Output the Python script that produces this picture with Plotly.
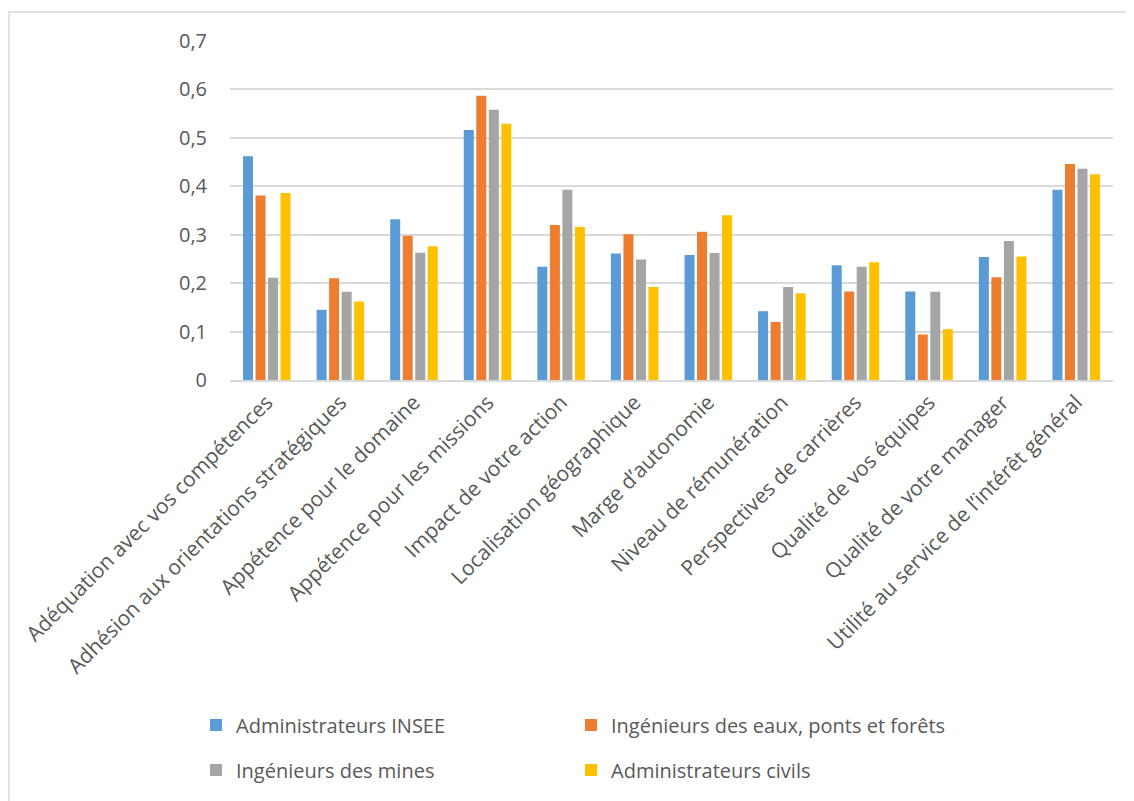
import plotly.graph_objects as go

##########
# Données #
##########

CATEGORIES = [
    "Adéquation avec vos compétences",
    "Adhésion aux orientations stratégiques",
    "Appétence pour le domaine",
    "Appétence pour les missions",
    "Impact de votre action",
    "Localisation géographique",
    "Marge d’autonomie",
    "Niveau de rémunération",
    "Perspectives de carrières",
    "Qualité de vos équipes",
    "Qualité de votre manager",
    "Utilité au service de l’intérêt général",
]

ADMIN_INSEE = [0.462, 0.145, 0.332, 0.516, 0.234, 0.261, 0.258, 0.142, 0.237, 0.183, 0.254, 0.393]
ING_EAUX = [0.381, 0.210, 0.298, 0.587, 0.320, 0.301, 0.306, 0.120, 0.183, 0.094, 0.212, 0.446]
ING_MINES = [0.211, 0.182, 0.263, 0.558, 0.393, 0.249, 0.262, 0.192, 0.234, 0.182, 0.287, 0.436]
ADMIN_CIVILS = [0.386, 0.162, 0.276, 0.529, 0.316, 0.192, 0.340, 0.179, 0.243, 0.105, 0.255, 0.425]

Y_TICKS = [0, 0.1, 0.2, 0.3, 0.4, 0.5, 0.6, 0.7]
Y_TICK_LABELS = ["0", "0,1", "0,2", "0,3", "0,4", "0,5", "0,6", "0,7"]

##########
# Layout #
##########

# the page body has an 8px margin, so the figure is shifted by 8px
PAGE_OFFSET = 8
WIDTH, HEIGHT = 1134 - PAGE_OFFSET, 801 - PAGE_OFFSET
LEFT, RIGHT, TOP, BOTTOM = 230 - PAGE_OFFSET, 21, 41 - PAGE_OFFSET, 421
FONT = "Open Sans"
TEXT_COLOR = "#595959"
GRID_COLOR = "#D9D9D9"

series = [
    ("Administrateurs INSEE", ADMIN_INSEE, "#5B9BD5", "legend"),
    ("Ingénieurs des eaux, ponts et forêts", ING_EAUX, "#ED7D31", "legend"),
    ("Ingénieurs des mines", ING_MINES, "#A5A5A5", "legend2"),
    ("Administrateurs civils", ADMIN_CIVILS, "#FFC000", "legend2"),
]

fig = go.Figure()
for name, values, color, legend in series:
    fig.add_trace(
        go.Bar(
            x=CATEGORIES,
            y=values,
            name=name,
            marker_color=color,
            marker_line_width=0,
            legend=legend,
        )
    )

legend_style = dict(
    orientation="h",
    xref="container",
    yref="container",
    x=(196 - PAGE_OFFSET) / WIDTH,
    xanchor="left",
    yanchor="middle",
    entrywidth=330,
    entrywidthmode="pixels",
    itemwidth=30,
    font=dict(family=FONT, size=20, color=TEXT_COLOR),
    bgcolor="rgba(0,0,0,0)",
)

plot_w = WIDTH - LEFT - RIGHT
plot_h = HEIGHT - TOP - BOTTOM


def px_x(px):
    return (px - PAGE_OFFSET - LEFT) / plot_w


def px_y(py):
    return (HEIGHT - BOTTOM - (py - PAGE_OFFSET)) / plot_h


fig.update_layout(
    width=WIDTH,
    height=HEIGHT,
    margin=dict(l=LEFT, r=RIGHT, t=TOP, b=BOTTOM, autoexpand=False),
    paper_bgcolor="white",
    plot_bgcolor="white",
    barmode="group",
    bargap=0.32,
    bargroupgap=0.2,
    font=dict(family=FONT, color=TEXT_COLOR),
    legend=dict(legend_style, y=1 - (725 - PAGE_OFFSET) / HEIGHT),
    legend2=dict(legend_style, y=1 - (770 - PAGE_OFFSET) / HEIGHT),
    shapes=[
        dict(
            type="rect",
            xref="paper",
            yref="paper",
            x0=px_x(9),
            x1=px_x(1150),
            y0=px_y(820),
            y1=px_y(12),
            line=dict(color=GRID_COLOR, width=1.5),
            fillcolor="rgba(0,0,0,0)",
            layer="below",
        )
    ],
)

fig.update_xaxes(
    tickangle=-45,
    tickfont=dict(family=FONT, size=21, color=TEXT_COLOR),
    showgrid=False,
    showline=True,
    linecolor=GRID_COLOR,
    linewidth=1.5,
    ticks="",
)

fig.update_yaxes(
    range=[0, 0.7],
    tickvals=Y_TICKS,
    ticktext=Y_TICK_LABELS,
    tickfont=dict(family=FONT, size=20, color=TEXT_COLOR),
    showgrid=True,
    gridcolor=GRID_COLOR,
    gridwidth=1.5,
    zeroline=False,
    ticklabelstandoff=22,
    ticks="",
)

fig.write_html("out.html")
